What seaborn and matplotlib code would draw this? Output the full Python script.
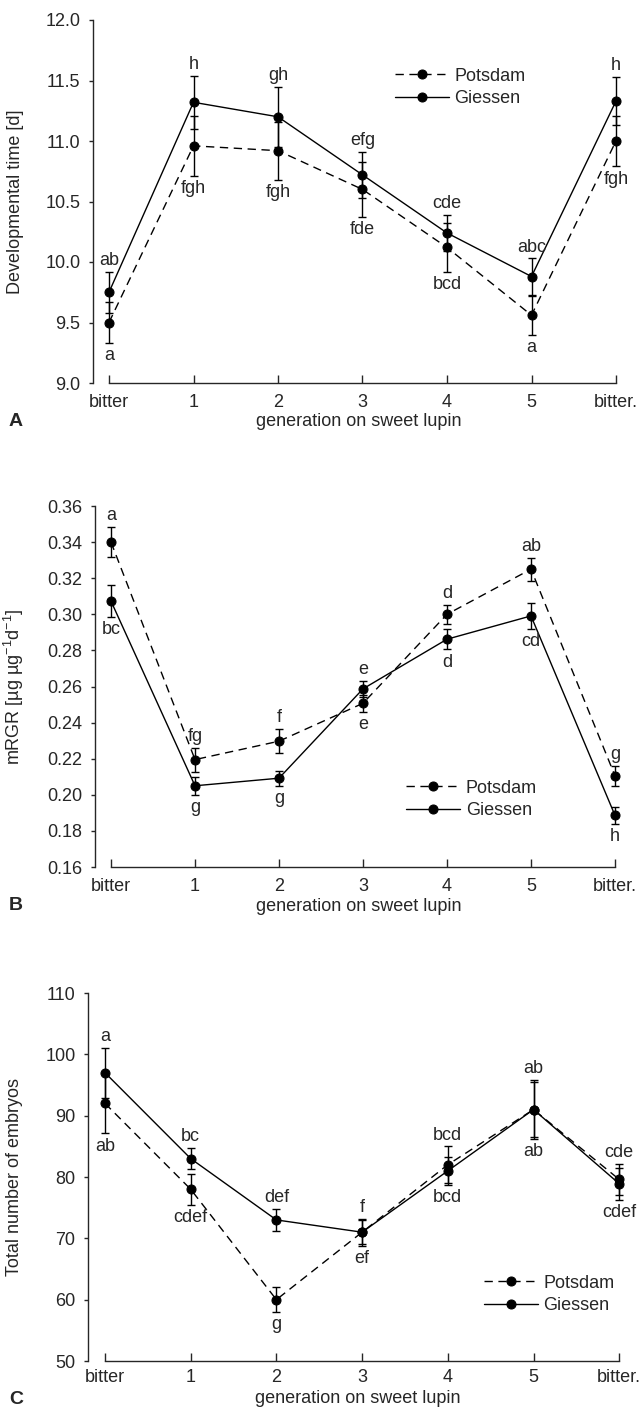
import matplotlib
matplotlib.use("Agg")
import matplotlib.pyplot as plt
import matplotlib.ticker as mticker
import seaborn as sns
import pandas as pd
import numpy as np

generations = ["bitter", "1", "2", "3", "4", "5", "bitter."]
sites = ["Potsdam", "Giessen"]

# A: developmental time [d]
dev_potsdam = [9.50, 10.96, 10.92, 10.60, 10.12, 9.56, 11.00]
dev_potsdam_se = [0.17, 0.25, 0.24, 0.23, 0.20, 0.16, 0.21]
dev_giessen = [9.75, 11.32, 11.20, 10.72, 10.24, 9.88, 11.33]
dev_giessen_se = [0.17, 0.22, 0.25, 0.19, 0.15, 0.15, 0.20]
dev_upper = ["ab", "h", "gh", "efg", "cde", "abc", "h"]
dev_lower = ["a", "fgh", "fgh", "fde", "bcd", "a", "fgh"]

# B: mRGR
rgr_potsdam = [0.340, 0.2195, 0.2297, 0.2507, 0.300, 0.325, 0.2105]
rgr_potsdam_se = [0.0083, 0.0066, 0.0067, 0.0047, 0.0052, 0.0063, 0.0057]
rgr_giessen = [0.3073, 0.205, 0.2092, 0.2587, 0.2862, 0.2991, 0.1886]
rgr_giessen_se = [0.0088, 0.005, 0.0042, 0.0046, 0.0057, 0.0071, 0.0046]
rgr_upper = ["a", "fg", "f", "e", "d", "ab", "g"]
rgr_lower = ["bc", "g", "g", "e", "d", "cd", "h"]

# C: total number of embryos
emb_potsdam = [92.0, 78.0, 60.0, 71.0, 82.0, 91.0, 79.6]
emb_potsdam_se = [4.9, 2.5, 2.0, 2.2, 3.0, 4.8, 2.5]
emb_giessen = [97.0, 83.0, 73.0, 71.0, 81.0, 91.0, 78.9]
emb_giessen_se = [4.1, 1.7, 1.8, 2.0, 2.3, 4.5, 2.6]
emb_upper = ["a", "bc", "def", "f", "bcd", "ab", "cde"]
emb_lower = ["ab", "cdef", "g", "ef", "bcd", "ab", "cdef"]

sns.set_style("ticks")
plt.rcParams["font.family"] = ["Liberation Sans", "DejaVu Sans"]
plt.rcParams["mathtext.fontset"] = "custom"
plt.rcParams["mathtext.rm"] = "Liberation Sans"
plt.rcParams["mathtext.it"] = "Liberation Sans"
plt.rcParams["axes.linewidth"] = 1.0
FS = 13

W, H = 640, 1409
fig = plt.figure(figsize=(W / 100, H / 100), dpi=100)


def make_axes(left, top, bottom, first, unit, right_pad=0.1):
    x0 = -(first - left) / unit
    width = (6 + right_pad - x0) * unit
    ax = fig.add_axes([left / W, 1 - bottom / H, width / W, (bottom - top) / H])
    ax.set_xlim(x0, 6 + right_pad)
    return ax


def draw_panel(ax, pots, pots_se, gies, gies_se, upper, lower, ylim, step,
               fmt, ylabel, ylab_x, xlab_y, leg_xy, xpad=8):
    x = np.arange(len(generations))
    df = pd.DataFrame({
        "gen": np.concatenate([x, x]),
        "value": pots + gies,
        "site": ["Potsdam"] * len(x) + ["Giessen"] * len(x),
    })
    ax.errorbar(x, pots, yerr=pots_se, fmt="none", ecolor="black",
                elinewidth=1, capsize=3.2, capthick=1, zorder=2)
    ax.errorbar(x, gies, yerr=gies_se, fmt="none", ecolor="black",
                elinewidth=1, capsize=3.2, capthick=1, zorder=2)
    sns.lineplot(data=df, x="gen", y="value", style="site", style_order=sites,
                 dashes={"Potsdam": (6, 4), "Giessen": ""},
                 markers={"Potsdam": "o", "Giessen": "o"},
                 color="black", linewidth=1, markersize=6.5,
                 markeredgecolor="black", ax=ax, zorder=3, clip_on=False)

    hi = np.maximum(np.array(pots) + pots_se, np.array(gies) + gies_se)
    lo = np.minimum(np.array(pots) - pots_se, np.array(gies) - gies_se)
    for i in range(len(x)):
        ax.annotate(upper[i], (x[i], hi[i]), xytext=(0, 2),
                    textcoords="offset points", ha="center", va="bottom",
                    fontsize=FS)
        ax.annotate(lower[i], (x[i], lo[i]), xytext=(0, -3),
                    textcoords="offset points", ha="center", va="top",
                    fontsize=FS)

    ax.set_ylim(*ylim)
    ax.set_yticks(np.arange(ylim[0], ylim[1] + step / 2, step))
    ax.yaxis.set_major_formatter(mticker.FormatStrFormatter(fmt))
    ax.set_xticks(x)
    ax.set_xticklabels(generations)
    ax.spines["top"].set_visible(False)
    ax.spines["right"].set_visible(False)
    ax.spines["bottom"].set_bounds(0, 6)
    ax.tick_params(axis="x", direction="in", length=6, width=1, pad=xpad,
                   labelsize=FS)
    ax.tick_params(axis="y", direction="out", length=3, width=1, pad=6,
                   labelsize=FS)
    ax.set_ylabel(ylabel, fontsize=FS)
    ax.set_xlabel("generation on sweet lupin", fontsize=FS)
    ax.yaxis.set_label_coords(ylab_x, 0.5)
    ax.xaxis.set_label_coords(0.5, xlab_y)
    sns.move_legend(ax, "center left", bbox_to_anchor=leg_xy, title=None,
                    frameon=False, fontsize=FS, handlelength=3.0,
                    handletextpad=0.3, labelspacing=0.3, borderpad=0,
                    borderaxespad=0)


axA = make_axes(93, 20, 383, 109, 84.5)
draw_panel(axA, dev_potsdam, dev_potsdam_se, dev_giessen, dev_giessen_se,
           dev_upper, dev_lower, (9.0, 12.0), 0.5, "%.1f",
           "Developmental time [d]", -0.13, -0.083, (0.568, 0.814))

axB = make_axes(95, 506, 867, 111, 84.0)
draw_panel(axB, rgr_potsdam, rgr_potsdam_se, rgr_giessen, rgr_giessen_se,
           rgr_upper, rgr_lower, (0.16, 0.36), 0.02, "%.2f",
           "mRGR [µg µg$^{-1}$d$^{-1}$]", -0.13, -0.086, (0.589, 0.187))

axC = make_axes(88, 993, 1361, 105, 85.7)
draw_panel(axC, emb_potsdam, emb_potsdam_se, emb_giessen, emb_giessen_se,
           emb_upper, emb_lower, (50, 110), 10, "%d",
           "Total number of embryos", -0.12, -0.078, (0.733, 0.181), xpad=6)

for letter, ypx in [("A", 422), ("B", 905), ("C", 1399)]:
    fig.text(16 / W, 1 - ypx / H, letter, fontsize=14, fontweight="bold",
             ha="center", va="center")

fig.savefig("out.png", dpi=100)
